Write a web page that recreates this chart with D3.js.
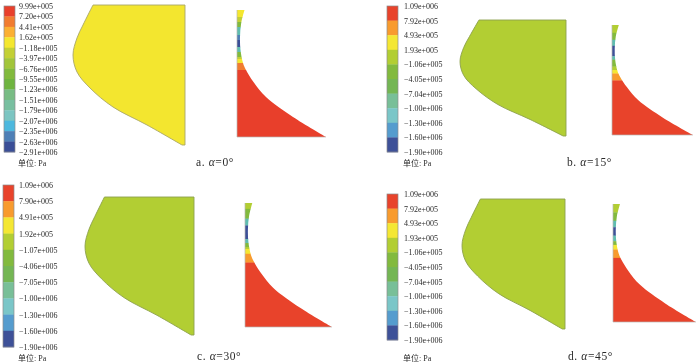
<!DOCTYPE html>
<html><head><meta charset="utf-8">
<style>html,body{margin:0;padding:0;background:#fff}svg{display:block;filter:blur(.35px)}
text{font-family:"Liberation Serif",serif;fill:#2a2a2a}</style>
<script src="https://cdn.jsdelivr.net/npm/d3@7"></script></head>
<body><svg id="c" width="700" height="362"></svg>
<script>
// Legend tick labels
const ticksA = ["9.99e+005","7.20e+005","4.41e+005","1.62e+005","−1.18e+005","−3.97e+005","−6.76e+005","−9.55e+005","−1.23e+006","−1.51e+006","−1.79e+006","−2.07e+006","−2.35e+006","−2.63e+006","−2.91e+006"];
const ticksB = ["1.09e+006","7.92e+005","4.93e+005","1.93e+005","−1.06e+005","−4.05e+005","−7.04e+005","−1.00e+006","−1.30e+006","−1.60e+006","−1.90e+006"];
const ticksC = ["1.09e+006","7.90e+005","4.91e+005","1.92e+005","−1.07e+005","−4.06e+005","−7.05e+005","−1.00e+006","−1.30e+006","−1.60e+006","−1.90e+006"];
const ticksD = ticksB;
// Legend colours, top to bottom
const coloursA = ["#E83F2B","#F17C30","#FBB033","#F4E72F","#C3D035","#A2C53A","#82BA3D","#6FB440","#78BC84","#78BFA0","#7CC5C2","#4DB8DE","#4E7FB6","#3A4E97"];
const coloursB = ["#E8432B","#F89B2E","#F4E733","#B2CE33","#82BA3E","#74B654","#78BF98","#7AC6C8","#559CCE","#3E5198"];
// Section outlines in shape units: curved side only
const mainU = [20,10,4,0,4,17,40,74,109];
const mainV = [0,20,33,50,67,83,102,120,140];
const wedgeU = [7.5,4.2,3,3.5,6,9,16.5,29,56,89];
const wedgeV = [0,13,27,40,53,60,72,87,107,127];
// Wedge colour bands: lower edge in shape units and colour
const bandsA = [[7,"#F4E72F"],[12,"#C3D035"],[17,"#82BA3D"],[25,"#5FBDB0"],[30,"#4E7FB6"],[37,"#3A4E97"],[42,"#5FBDB0"],[47,"#82BA3D"],[49,"#C3D035"],[53,"#F4E72F"],[60,"#F17C30"],[127,"#E83F2B"]];
const bandsB = [[9,"#B2CE33"],[17,"#82BA3E"],[24,"#5FBDB0"],[36,"#3E5198"],[40,"#5FBDB0"],[48,"#82BA3E"],[52,"#B2CE33"],[56,"#F4E733"],[64,"#F89B2E"],[127,"#E8432B"]];
const bandsC = [[6,"#B2CE33"],[16,"#82BA3E"],[23,"#5FBDB0"],[37,"#3E5198"],[41,"#5FBDB0"],[45,"#82BA3E"],[47,"#B2CE33"],[52,"#F4E733"],[61,"#F89B2E"],[127,"#E8432B"]];
const bandsD = [[9,"#B2CE33"],[18,"#82BA3E"],[25,"#5FBDB0"],[34,"#3E5198"],[40,"#5FBDB0"],[44,"#82BA3E"],[49,"#F4E733"],[58,"#F89B2E"],[127,"#E8432B"]];
const captions = [["a. ","0°"],["b. ","15°"],["c. ","30°"],["d. ","45°"]];
const unitLabel = "单位: Pa";

const panels = [
 {ticks:ticksA,cols:coloursA,bands:bandsA,fill:"#F3E62F",stroke:"#A8A66A",
  leg:[4,15,6,152],legX:19,unit:[18,166],cap:[196,166],main:[73,185,5,145],wedge:[237,326,10,137]},
 {ticks:ticksB,cols:coloursB,bands:bandsB,fill:"#B2CE33",stroke:"#8CA04E",
  leg:[387,398,6,152],legX:404,unit:[403,166],cap:[567,166],main:[460,566,20,136],wedge:[612,693,25,135]},
 {ticks:ticksC,cols:coloursB,bands:bandsC,fill:"#B2CE33",stroke:"#8CA04E",
  leg:[3,14,185,347],legX:19,unit:[18,361],cap:[197,360],main:[85,194,197,335],wedge:[245,332,203,327]},
 {ticks:ticksD,cols:coloursB,bands:bandsD,fill:"#B2CE33",stroke:"#8CA04E",
  leg:[387,398,194,340],legX:404,unit:[403,361],cap:[568,360],main:[462,565,199,329],wedge:[613,696,204,322]}
];

const svg = d3.select("#c");
const defs = svg.append("defs");
panels.forEach((p,i)=>{
  const g = svg.append("g");
  // legend
  const yb = d3.scaleBand().domain(p.cols.map((_,k)=>k)).range([p.leg[2],p.leg[3]]);
  g.selectAll("rect.l").data(p.cols).join("rect").attr("class","l")
    .attr("x",p.leg[0]).attr("width",p.leg[1]-p.leg[0])
    .attr("y",(_,k)=>yb(k)).attr("height",yb.bandwidth()+.3).attr("fill",d=>d);
  g.append("rect").attr("x",p.leg[0]).attr("y",p.leg[2]).attr("width",p.leg[1]-p.leg[0])
    .attr("height",p.leg[3]-p.leg[2]).attr("fill","none").attr("stroke","#8c8c8c").attr("stroke-width",.7);
  const yt = d3.scalePoint().domain(p.ticks.map((_,k)=>k)).range([p.leg[2],p.leg[3]]);
  const ax = g.append("g").attr("transform",`translate(${p.legX-3},0)`)
    .call(d3.axisRight(yt).tickSize(0).tickPadding(3).tickFormat(k=>p.ticks[k]));
  ax.select(".domain").remove();
  ax.selectAll("text").attr("font-size",8).attr("font-family","Liberation Serif").attr("fill","#2a2a2a");
  // unit
  g.append("text").attr("x",p.unit[0]).attr("y",p.unit[1]).attr("font-size",8)
    .style("font-family",'"Liberation Serif","Noto Sans CJK SC",serif').text(unitLabel);
  // main section
  const mx = d3.scaleLinear().domain([0,112]).range(p.main.slice(0,2));
  const my = d3.scaleLinear().domain([0,140]).range(p.main.slice(2,4));
  const ml = d3.line().x(k=>mx(mainU[k])).y(k=>my(mainV[k])).curve(d3.curveCatmullRom);
  const md = ml(d3.range(mainU.length))+`L${mx(112)},${my(140)}L${mx(112)},${my(0)}Z`;
  g.append("path").attr("d",md).attr("fill",p.fill).attr("stroke",p.stroke).attr("stroke-width",.9);
  // wedge section
  const wx = d3.scaleLinear().domain([0,89]).range(p.wedge.slice(0,2));
  const wy = d3.scaleLinear().domain([0,127]).range(p.wedge.slice(2,4));
  const wl = d3.line().x(k=>wx(wedgeU[k])).y(k=>wy(wedgeV[k])).curve(d3.curveCatmullRom);
  const wd = wl(d3.range(wedgeU.length))+`L${wx(0)},${wy(127)}L${wx(0)},${wy(0)}Z`;
  defs.append("clipPath").attr("id","w"+i).append("path").attr("d",wd);
  const wg = g.append("g").attr("clip-path",`url(#w${i})`);
  wg.selectAll("rect").data(p.bands).join("rect")
    .attr("x",wx(0)).attr("width",wx(89)-wx(0))
    .attr("y",(d,k)=>wy(k?p.bands[k-1][0]:0))
    .attr("height",(d,k)=>wy(d[0])-wy(k?p.bands[k-1][0]:0)+.3)
    .attr("fill",d=>d[1]);
  g.append("path").attr("d",d3.line().x(d=>wx(d[0])).y(d=>wy(d[1]))([[0,0],[0,127],[89,127]]))
    .attr("fill","none").attr("stroke","#b8b8b4").attr("stroke-width",.7);
  // caption
  const t = g.append("text").attr("x",p.cap[0]).attr("y",p.cap[1]).attr("font-size",11.5).attr("letter-spacing",.6);
  t.append("tspan").text(captions[i][0]);
  t.append("tspan").attr("font-style","italic").text("α");
  t.append("tspan").text("="+captions[i][1]);
});
</script></body></html>
